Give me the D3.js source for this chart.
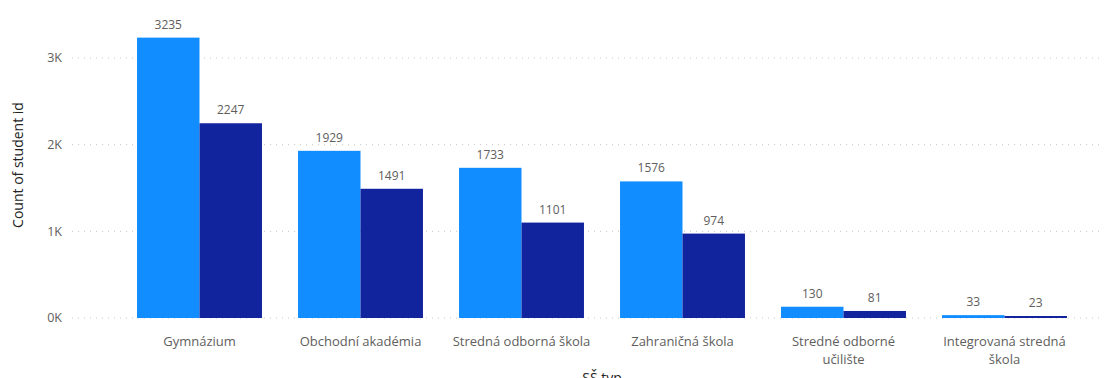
<!DOCTYPE html>
<html>
<head>
<meta charset="utf-8">
<script src="https://cdn.jsdelivr.net/npm/d3@7"></script>
<style>
  html, body { margin: 0; padding: 0; background: #fff; }
  svg { display: block; font-family: "Segoe UI", "Open Sans", "Noto Sans", sans-serif; }
</style>
</head>
<body>
<svg id="chart" width="1120" height="378"></svg>
<script>
// School types and student counts for the two series
const categories = [
  ["Gymnázium"],
  ["Obchodní akadémia"],
  ["Stredná odborná škola"],
  ["Zahraničná škola"],
  ["Stredné odborné", "učilište"],
  ["Integrovaná stredná", "škola"]
];
const seriesA = [3235, 1929, 1733, 1576, 130, 33];
const seriesB = [2247, 1491, 1101, 974, 81, 23];
const yTicks = [0, 1000, 2000, 3000];
const yTickLabels = ["0K", "1K", "2K", "3K"];

const colors = ["#118DFF", "#12239E"];
const svg = d3.select("#chart");

const keys = categories.map(c => c.join(" "));
const x = d3.scaleBand().domain(keys).range([119, 1085])
  .paddingInner(0.224).paddingOuter(0.112);
const xSub = d3.scaleBand().domain([0, 1]).range([0, x.bandwidth()]);
const y = d3.scaleLinear().domain([0, 3000]).range([318, 58]);

// dotted gridlines
svg.append("g").selectAll("line").data(yTicks).join("line")
  .attr("x1", 72).attr("x2", 1102)
  .attr("y1", d => y(d)).attr("y2", d => y(d))
  .attr("stroke", "#C8C6C4").attr("stroke-width", 1)
  .attr("stroke-dasharray", "1,5");

// y axis tick labels
svg.append("g").selectAll("text").data(yTicks).join("text")
  .attr("x", 62).attr("y", d => y(d)).attr("dy", "0.35em")
  .attr("text-anchor", "end").attr("font-size", 12.5).attr("fill", "#605E5C")
  .text((d, i) => yTickLabels[i]);

// y axis title
svg.append("text")
  .attr("transform", "translate(23,165) rotate(-90)")
  .attr("text-anchor", "middle").attr("font-size", 14).attr("fill", "#252423")
  .text("Count of student id");

const rows = keys.map((k, i) => ({ key: k, vals: [seriesA[i], seriesB[i]] }));
const groups = svg.append("g").selectAll("g").data(rows).join("g")
  .attr("transform", d => `translate(${x(d.key)},0)`);

groups.selectAll("rect").data(d => d.vals.map((v, j) => ({ v, j }))).join("rect")
  .attr("x", d => xSub(d.j)).attr("width", xSub.bandwidth())
  .attr("y", d => y(d.v)).attr("height", d => y(0) - y(d.v))
  .attr("fill", d => colors[d.j]);

// value labels above bars
groups.selectAll("text.val").data(d => d.vals.map((v, j) => ({ v, j }))).join("text")
  .attr("class", "val")
  .attr("x", d => xSub(d.j) + xSub.bandwidth() / 2)
  .attr("y", d => y(d.v) - 9)
  .attr("text-anchor", "middle").attr("font-size", 12).attr("fill", "#605E5C")
  .text(d => d.v);

// category labels
const catG = svg.append("g").selectAll("text").data(categories).join("text")
  .attr("x", (d, i) => x(keys[i]) + x.bandwidth() / 2)
  .attr("y", 346)
  .attr("text-anchor", "middle").attr("font-size", 13).attr("fill", "#605E5C");
catG.selectAll("tspan").data(d => d).join("tspan")
  .attr("x", function () { return d3.select(this.parentNode).attr("x"); })
  .attr("dy", (d, i) => i === 0 ? 0 : 18)
  .text(d => d);

// x axis title
svg.append("text")
  .attr("x", 602).attr("y", 383)
  .attr("text-anchor", "middle").attr("font-size", 14).attr("fill", "#252423")
  .text("SŠ typ");
</script>
</body>
</html>
